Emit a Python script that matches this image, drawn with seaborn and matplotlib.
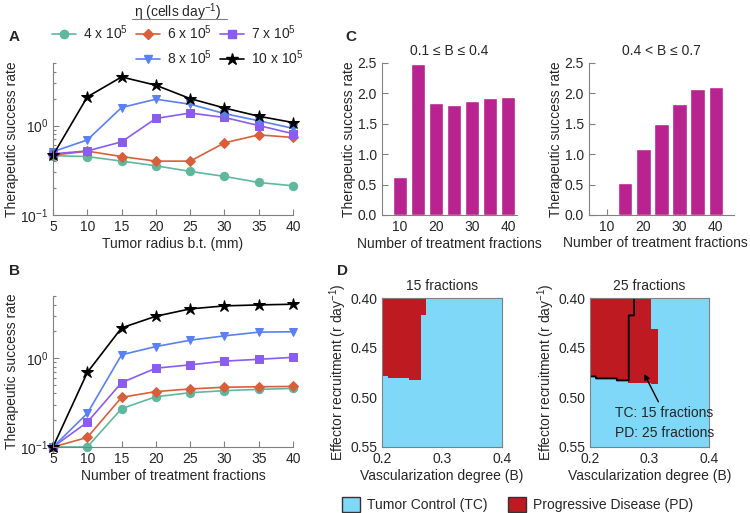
import numpy as np
import matplotlib
matplotlib.use('Agg')
import matplotlib.pyplot as plt
import seaborn as sns
from matplotlib.lines import Line2D
from matplotlib.patches import Patch
from matplotlib.colors import ListedColormap
from matplotlib.ticker import NullFormatter, FormatStrFormatter, LogLocator

sns.set_style('white')
plt.rcParams['font.family'] = ['Liberation Sans', 'DejaVu Sans']
plt.rcParams['mathtext.default'] = 'regular'

# ---- data ----
x_vals = [5, 10, 15, 20, 25, 30, 35, 40]
eta_labels = ['4 x 10$^5$', '6 x 10$^5$', '7 x 10$^5$', '8 x 10$^5$', '10 x 10$^5$']

# panel A: success rate vs tumor radius
radius_4 = [0.46, 0.45, 0.40, 0.355, 0.307, 0.27, 0.231, 0.212]
radius_6 = [0.466, 0.517, 0.45, 0.40, 0.40, 0.64, 0.787, 0.735]
radius_7 = [0.483, 0.52, 0.657, 1.2, 1.38, 1.23, 1.0, 0.81]
radius_8 = [0.51, 0.69, 1.59, 1.97, 1.73, 1.36, 1.13, 0.93]
radius_10 = [0.466, 2.09, 3.49, 2.82, 2.0, 1.57, 1.27, 1.08]

# panel B: success rate vs number of fractions
frac_4 = [0.1, 0.1, 0.27, 0.368, 0.408, 0.43, 0.445, 0.456]
frac_6 = [0.1, 0.128, 0.362, 0.42, 0.45, 0.47, 0.476, 0.48]
frac_7 = [0.1, 0.19, 0.53, 0.77, 0.84, 0.925, 0.97, 1.02]
frac_8 = [0.1, 0.239, 1.09, 1.35, 1.59, 1.78, 1.96, 1.98]
frac_10 = [0.1, 0.69, 2.19, 2.96, 3.58, 3.87, 3.97, 4.04]

# panel C: bars
bar_fractions = [10, 15, 20, 25, 30, 35, 40]
bars_low_B = [0.626, 2.48, 1.846, 1.81, 1.87, 1.93, 1.945]
bars_high_B = [0.0, 0.53, 1.088, 1.49, 1.82, 2.08, 2.10]

# panel D: PD region boundaries (B segment end, r from, r to)
pd15_B_end = [0.21, 0.245, 0.265, 0.274]
pd15_r_lo = [0.40, 0.40, 0.40, 0.40]
pd15_r_hi = [0.479, 0.481, 0.483, 0.4175]
pd25_B_end = [0.211, 0.2436, 0.263, 0.303, 0.3145]
pd25_r_lo = [0.40, 0.40, 0.40, 0.40, 0.431]
pd25_r_hi = [0.479, 0.4816, 0.4833, 0.4853, 0.487]

colors = ['#5fb89e', '#d95f3b', '#8a5cf2', '#5a80f3', '#000000']
markers = ['o', 'D', 's', 'v', '*']
msizes = [6, 5, 6, 6, 9]
tc_blue = '#80d8f9'
pd_red = '#bd1b21'
bar_col = '#b8238f'
spine_col = '#808080'
txt_col = '#262626'

fig = plt.figure(figsize=(7.5, 5.13), dpi=100)


def style_ax(ax, box=False):
    for s in ax.spines.values():
        s.set_color(spine_col)
        s.set_linewidth(0.8)
    if not box:
        sns.despine(ax=ax)
    ax.tick_params(which='both', direction='in', color=spine_col, width=0.8,
                   labelcolor=txt_col, labelsize=10, bottom=True, left=True,
                   top=box, right=box)
    ax.tick_params(which='major', length=4)
    ax.tick_params(which='minor', length=2.5)


def line_panel(ax, series, xlabel):
    for ys, col, mk, ms in zip(series, colors, markers, msizes):
        sns.lineplot(x=x_vals, y=ys, ax=ax, color=col, marker=mk, markersize=ms,
                     markeredgecolor=col, lw=1.2, clip_on=False)
    ax.set_yscale('log')
    ax.set_ylim(0.1, 5)
    ax.set_xlim(5, 40)
    ax.set_xticks(x_vals)
    ax.yaxis.set_minor_locator(LogLocator(subs=np.arange(2, 10)))
    ax.yaxis.set_minor_formatter(NullFormatter())
    ax.set_xlabel(xlabel, fontsize=10, color=txt_col, labelpad=2)
    ax.set_ylabel('Therapeutic success rate', fontsize=10, color=txt_col, labelpad=1)
    style_ax(ax)


axA = fig.add_axes([0.0707, 0.5809, 0.32, 0.2963])
line_panel(axA, [radius_4, radius_6, radius_7, radius_8, radius_10], 'Tumor radius b.t. (mm)')
axB = fig.add_axes([0.0707, 0.1287, 0.32, 0.2943])
line_panel(axB, [frac_4, frac_6, frac_7, frac_8, frac_10], 'Number of treatment fractions')

# legend for A/B
h = [Line2D([], [], color=c, marker=m, markersize=s, lw=1.2, markeredgecolor=c)
     for c, m, s in zip(colors, markers, msizes)]
blank = Line2D([], [], linestyle='none')
fig.legend([h[0], blank, h[1], h[3], h[2], h[4]],
           [eta_labels[0], '', eta_labels[1], eta_labels[3], eta_labels[2], eta_labels[4]],
           ncol=3, loc='center', bbox_to_anchor=(0.237, 0.912), frameon=False,
           fontsize=10, handlelength=1.7, columnspacing=0.6, handletextpad=0.5,
           labelspacing=0.45)
fig.text(0.237, 0.998, 'η (cells day$^{-1}$)', ha='center', va='top',
         fontsize=10, color=txt_col)
fig.add_artist(Line2D([0.176, 0.303], [0.963, 0.963], color=spine_col, lw=0.8))


def bar_panel(rect, vals, title, xmax):
    ax = fig.add_axes(rect)
    sns.barplot(x=bar_fractions, y=vals, native_scale=True, color=bar_col,
                saturation=1, ax=ax)
    ax.set_xlim(5, xmax)
    ax.set_ylim(0, 2.5)
    ax.set_xticks([10, 20, 30, 40])
    ax.set_yticks([0, 0.5, 1.0, 1.5, 2.0, 2.5])
    ax.yaxis.set_major_formatter(FormatStrFormatter('%.1f'))
    ax.set_title(title, fontsize=10, color=txt_col, pad=6)
    ax.set_xlabel('Number of treatment fractions', fontsize=10, color=txt_col, labelpad=2)
    ax.set_ylabel('Therapeutic success rate', fontsize=10, color=txt_col, labelpad=1)
    style_ax(ax)
    return ax


bar_panel([0.5093, 0.5809, 0.18, 0.2963], bars_low_B, '0.1 ≤ B ≤ 0.4', 42.5)
axC2 = bar_panel([0.7853, 0.5809, 0.1933, 0.2963], bars_high_B, '0.4 < B ≤ 0.7', 45)
# keep the long label inside the figure
axC2.xaxis.set_label_coords(0.46, -0.14)
axC2.xaxis.label.set_va('top')

# panel D maps
b_grid = np.linspace(0.2, 0.4, 401)
r_grid = np.linspace(0.40, 0.55, 301)
b_c = 0.5 * (b_grid[1:] + b_grid[:-1])
r_c = 0.5 * (r_grid[1:] + r_grid[:-1])


def pd_map(b_end, r_lo, r_hi):
    m = np.zeros((len(r_c), len(b_c)))
    start = 0.2
    for be, lo, hi in zip(b_end, r_lo, r_hi):
        mb = (b_c >= start) & (b_c < be)
        mr = (r_c >= lo) & (r_c < hi)
        m[np.ix_(mr, mb)] = 1
        start = be
    return m


map15 = pd_map(pd15_B_end, pd15_r_lo, pd15_r_hi)
map25 = pd_map(pd25_B_end, pd25_r_lo, pd25_r_hi)
cmap = ListedColormap([tc_blue, pd_red])


def map_panel(rect, m, title):
    ax = fig.add_axes(rect)
    ax.pcolormesh(b_grid, r_grid, m, cmap=cmap, vmin=0, vmax=1)
    ax.set_xlim(0.2, 0.4)
    ax.set_ylim(0.55, 0.40)
    ax.set_xticks([0.2, 0.3, 0.4])
    ax.set_yticks([0.40, 0.45, 0.50, 0.55])
    ax.xaxis.set_major_formatter(FormatStrFormatter('%.1f'))
    ax.yaxis.set_major_formatter(FormatStrFormatter('%.2f'))
    ax.set_title(title, fontsize=10, color=txt_col, pad=6)
    ax.set_xlabel('Vascularization degree (B)', fontsize=10, color=txt_col, labelpad=2)
    ax.set_ylabel('Effector recruitment (r day$^{-1}$)', fontsize=10, color=txt_col, labelpad=1)
    style_ax(ax, box=True)
    return ax


map_panel([0.5093, 0.1287, 0.16, 0.2904], map15, '15 fractions')
axD2 = map_panel([0.7867, 0.1287, 0.1587, 0.2904], map25, '25 fractions')
axD2.contour(b_c, r_c, map15, levels=[0.5], colors='k', linewidths=1.3)
axD2.annotate('', xy=(0.289, 0.474), xytext=(0.317, 0.507),
              arrowprops=dict(arrowstyle='-|>', color='k', lw=1, mutation_scale=8))
axD2.text(0.242, 0.526, 'TC: 15 fractions\nPD: 25 fractions', ha='left', va='center',
          fontsize=10, color=txt_col, linespacing=1.5)

fig.legend([Patch(facecolor=tc_blue, edgecolor='#333333'),
            Patch(facecolor=pd_red, edgecolor='#333333')],
           ['Tumor Control (TC)', 'Progressive Disease (PD)'],
           ncol=2, loc='center', bbox_to_anchor=(0.69, 0.017), frameon=False,
           fontsize=10, handlelength=1.3, handleheight=1.3, columnspacing=1.5,
           handletextpad=0.5)

# panel letters
for lab, xx, yy in [('A', 0.012, 0.928), ('B', 0.012, 0.472), ('C', 0.46, 0.928), ('D', 0.45, 0.472)]:
    fig.text(xx, yy, lab, fontsize=11, fontweight='bold', ha='left', va='center')

fig.savefig('out.png', dpi=100)
